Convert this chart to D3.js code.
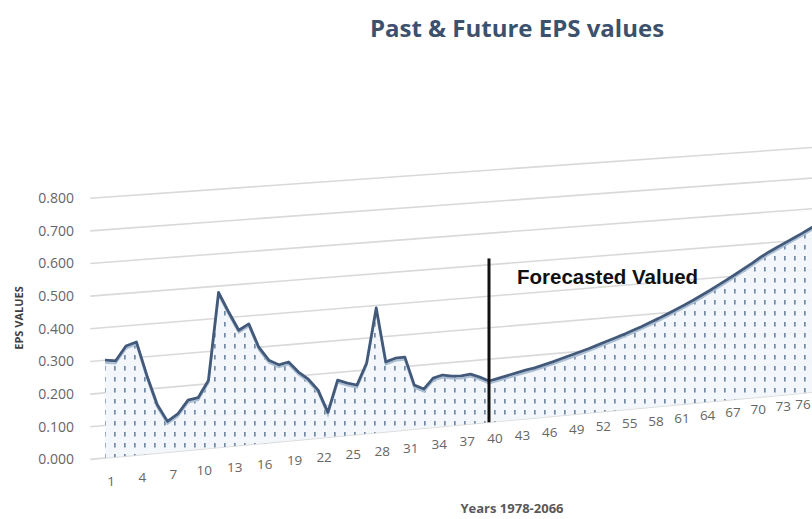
<!DOCTYPE html>
<html>
<head>
<meta charset="utf-8">
<script src="https://cdn.jsdelivr.net/npm/d3@7"></script>
<style>
body{margin:0;background:#fff;}
svg{display:block;font-family:"Open Sans",sans-serif;}
</style>
</head>
<body>
<div id="screen"></div>
<script>
var width = 812;
var height = 519;

// year index 1 = 1978
var pastIdx = [1,2,3,4,5,6,7,8,9,10,11,12,13,14,15,16,17,18,19,20,
  21,22,23,24,25,26,27,28,29,30,31,32,33,34,35,36,37,38,39,40];
var pastEps = [0.300,0.295,0.338,0.348,0.243,0.150,0.095,0.115,0.155,0.160,0.210,0.480,0.417,0.358,0.375,0.300,0.257,0.240,0.246,0.212,
  0.187,0.150,0.078,0.176,0.164,0.155,0.222,0.392,0.220,0.229,0.230,0.139,0.124,0.156,0.163,0.157,0.155,0.158,0.146,0.131];
var futureIdx = [40,41,42,43,44,45,46,47,48,49,50,51,52,53,54,55,56,57,58,59,60,
  61,62,63,64,65,66,67,68,69,70,71,72,73,74,75,76,77,78,79,80];
var futureEps = [0.131,0.137,0.143,0.149,0.155,0.160,0.167,0.174,0.182,0.190,0.198,0.206,0.215,0.224,0.233,0.242,0.252,0.262,0.273,0.284,0.296,
  0.308,0.320,0.333,0.347,0.361,0.376,0.391,0.406,0.422,0.438,0.455,0.470,0.483,0.496,0.509,0.522,0.536,0.550,0.564,0.578];
var yTicks = [0,0.1,0.2,0.3,0.4,0.5,0.6,0.7,0.8];
var xTickLabels = [1,4,7,10,13,16,19,22,25,28,31,34,37,40,43,46,49,52,55,58,61,64,67,70,73,76];
var forecastAt = 40;
var dividerTop = 0.52;

var svg = d3.select("#screen").append("svg")
  .attr("width", width).attr("height", height);

// perspective: categories get closer together to the right
var tScale = d3.scaleLinear().domain([1, 76]).range([0, 75]);
var persA = 10.525, persC = 0.001768;
var px = function(i){
  var t = tScale(i);
  return 105 + persA * t / (1 + persC * t);
};
var baseY = d3.scaleLinear().domain([105, 812]).range([458, 392.2]);
var unitY = d3.scaleLinear().domain([105, 812]).range([326, 305.8]);
var yAt = function(x){
  return d3.scaleLinear().domain([0, 1]).range([baseY(x), baseY(x) - unitY(x)]);
};
var py = function(i, v){ return yAt(px(i))(v); };
var labelY = d3.scaleLinear().domain([px(1), px(76)]).range([481, 404]);

var defs = svg.append("defs");
var pat = defs.append("pattern").attr("id", "dots")
  .attr("patternUnits", "userSpaceOnUse")
  .attr("width", 10).attr("height", 11);
pat.append("rect").attr("width", 10).attr("height", 11).attr("fill", "#f2f6fa");
pat.append("rect").attr("x", 4).attr("y", 3).attr("width", 1.7).attr("height", 4.5)
  .attr("fill", "#6a84a3");

// title
svg.append("text").attr("x", 517).attr("y", 37)
  .attr("text-anchor", "middle").attr("font-size", "24px").attr("font-weight", "bold")
  .attr("fill", "#3b516c").text("Past & Future EPS values");

// gridlines
svg.selectAll("line.grid").data(yTicks).enter().append("line")
  .attr("class", "grid")
  .attr("x1", px(-0.4)).attr("y1", function(d){ return py(-0.4, d); })
  .attr("x2", px(95)).attr("y2", function(d){ return py(95, d); })
  .attr("stroke", "#d9d9d9").attr("stroke-width", 1.6);

svg.selectAll("text.ytick").data(yTicks).enter().append("text")
  .attr("class", "ytick")
  .attr("x", 74).attr("y", function(d){ return py(-0.4, d); })
  .attr("dy", "0.35em").attr("text-anchor", "end")
  .attr("font-size", "14px").attr("fill", "#666")
  .text(d3.format(".3f"));

svg.append("text")
  .attr("transform", "translate(23,318) rotate(-90)")
  .attr("text-anchor", "middle").attr("font-size", "11px").attr("font-weight", "bold")
  .attr("fill", "#404040").text("EPS VALUES");

// series
var data = pastIdx.map(function(d, k){ return {i: d, v: pastEps[k]}; })
  .concat(futureIdx.slice(1).map(function(d, k){ return {i: d, v: futureEps[k + 1]}; }));

var area = d3.area()
  .x(function(d){ return px(d.i); })
  .y0(function(d){ return py(d.i, 0); })
  .y1(function(d){ return py(d.i, d.v); });
var line = d3.line()
  .x(function(d){ return px(d.i); })
  .y(function(d){ return py(d.i, d.v); });

svg.append("path").datum(data).attr("d", area)
  .attr("fill", "url(#dots)").attr("fill-opacity", 0.95);
svg.append("path").datum(data).attr("d", line)
  .attr("transform", "translate(0,2.5)")
  .attr("fill", "none").attr("stroke", "#a9bdd3").attr("stroke-width", 2);
svg.append("path").datum(data).attr("d", line)
  .attr("fill", "none").attr("stroke", "#42597a").attr("stroke-width", 2.8)
  .attr("stroke-linejoin", "round");

// x labels (last one kept inside the frame)
svg.selectAll("text.xtick").data(xTickLabels).enter().append("text")
  .attr("class", "xtick")
  .attr("x", function(d){ return Math.min(px(d) + 6, width - 9); })
  .attr("y", function(d){ return labelY(px(d)); })
  .attr("dy", "0.35em").attr("text-anchor", "middle")
  .attr("font-size", "13.5px").attr("fill", "#666")
  .text(function(d){ return d; });

svg.append("text").attr("x", 512).attr("y", 513)
  .attr("text-anchor", "middle").attr("font-size", "13px").attr("font-weight", "bold")
  .attr("fill", "#595959").text("Years 1978-2066");

// forecast divider
svg.append("line")
  .attr("x1", px(forecastAt)).attr("x2", px(forecastAt))
  .attr("y1", py(forecastAt, 0)).attr("y2", py(forecastAt, dividerTop))
  .attr("stroke", "#111").attr("stroke-width", 3);
svg.append("text")
  .attr("x", px(forecastAt) + 28).attr("y", py(forecastAt, 0.44))
  .attr("font-family", "Liberation Sans, Arial, sans-serif")
  .attr("font-size", "20.5px").attr("font-weight", "bold").attr("fill", "#111")
  .text("Forecasted Valued");
</script>
</body>
</html>
